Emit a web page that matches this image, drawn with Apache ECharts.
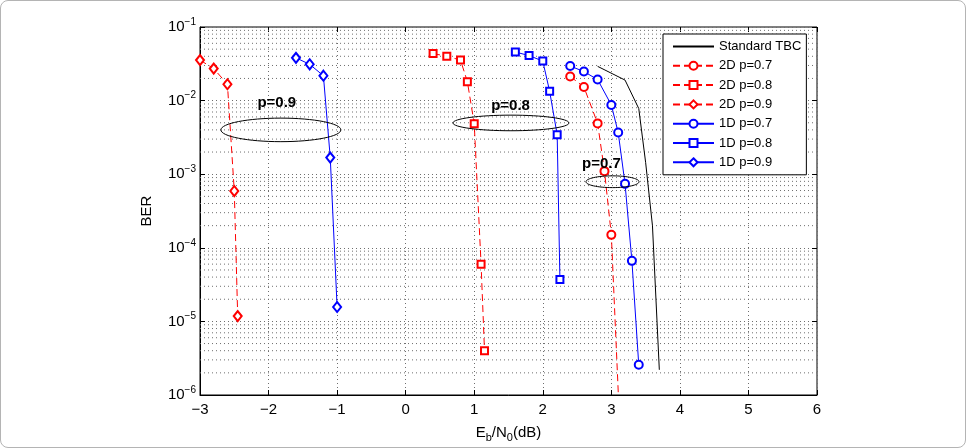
<!DOCTYPE html>
<html>
<head>
  <meta charset="UTF-8">
  <title>BER vs Eb/N0</title>
  <script src="https://cdn.jsdelivr.net/npm/echarts@6/dist/echarts.min.js"></script>
  <style>
  html, body { margin: 0; padding: 0; background: #fff; }
  #frame {
    position: absolute; left: 0; top: 0;
    width: 964px; height: 446px;
    border: 1px solid #b4b4b4; border-radius: 8px;
  }
  #chart { width: 966px; height: 448px; position: absolute; left: 0; top: 0; }
  </style>
</head>
<body>
  <div id="frame"></div>
  <div id="chart"></div>
<script>
// values: [Eb/N0 (dB), BER]
var tbc    = [[2.8, 0.0292], [3.2, 0.0190], [3.4, 0.0078], [3.5, 0.00145], [3.6, 0.0002], [3.7, 2.2e-6]];
var d2p07  = [[2.4, 0.0213], [2.6, 0.0153], [2.8, 0.0049], [2.9, 0.00110], [3.0, 0.000150], [3.11, 7e-7]];
var d2p08  = [[0.4, 0.0435], [0.6, 0.0401], [0.8, 0.0355], [0.9, 0.0181], [1.0, 0.00484], [1.1, 6.0e-5], [1.15, 3.98e-6]];
var d2p09  = [[-3.0, 0.0355], [-2.8, 0.0272], [-2.6, 0.0167], [-2.5, 0.00059], [-2.45, 1.18e-5]];
var d1p07  = [[2.4, 0.0295], [2.6, 0.0248], [2.8, 0.0193], [3.0, 0.00873], [3.1, 0.00368], [3.2, 0.000739], [3.3, 6.65e-5], [3.4, 2.57e-6]];
var d1p08  = [[1.6, 0.0457], [1.8, 0.0409], [2.0, 0.0344], [2.1, 0.0134], [2.21, 0.00343], [2.25, 3.72e-5]];
var d1p09  = [[-1.6, 0.0381], [-1.4, 0.0311], [-1.2, 0.0218], [-1.1, 0.00168], [-1.0, 1.57e-5]];

var legendNames = ['Standard TBC', '2D p=0.7', '2D p=0.8', '2D p=0.9', '1D p=0.7', '1D p=0.8', '1D p=0.9'];

// ellipse annotations: centre in data units, half width (dB), half height (decades)
var notes = [
  { text: 'p=0.9', cx: -1.82, cy: 4.0e-3, hw: 0.875, hh: 0.16, tx: -1.88, ty: 9.4e-3 },
  { text: 'p=0.8', cx: 1.536, cy: 4.97e-3, hw: 0.846, hh: 0.106, tx: 1.53, ty: 8.6e-3 },
  { text: 'p=0.7', cx: 3.017, cy: 7.9e-4, hw: 0.387, hh: 0.08, tx: 2.856, ty: 1.38e-3 }
];

var xMin = -3, xMax = 6;

// minor grid at 2..9 x 10^k
var minorVals = [];
for (var k = -6; k < -1; k++) {
  for (var m = 2; m <= 9; m++) minorVals.push(m * Math.pow(10, k));
}

var FONT = '"Liberation Sans", Arial, Helvetica, sans-serif';
var RED = '#ff0000', BLUE = '#0000ff';
var DOTS = { color: '#6e6e6e', type: [1, 3], width: 1 };

var myChart = echarts.init(document.getElementById('chart'));

function mk(name, data, color, dashed, symbol, size) {
  return {
    name: name,
    type: 'line',
    data: data,
    z: 3,
    symbol: symbol,
    symbolSize: size,
    itemStyle: { color: color, borderWidth: 1 },
    lineStyle: { color: color, width: 1, type: dashed ? [7, 4] : 'solid' },
    emphasis: { disabled: true }
  };
}

var series = minorVals.map(function (v) {
  return {
    type: 'line',
    data: [[xMin, v], [xMax, v]],
    symbol: 'none',
    silent: true,
    z: 1,
    lineStyle: DOTS,
    emphasis: { disabled: true }
  };
});

series.push(
  mk('Standard TBC', tbc, '#000', false, 'emptyCircle', 0),
  mk('2D p=0.7', d2p07, RED, true, 'emptyCircle', 8),
  mk('2D p=0.8', d2p08, RED, true, 'emptyRect', 7),
  mk('2D p=0.9', d2p09, RED, true, 'emptyDiamond', [8, 10]),
  mk('1D p=0.7', d1p07, BLUE, false, 'emptyCircle', 8),
  mk('1D p=0.8', d1p08, BLUE, false, 'emptyRect', 7),
  mk('1D p=0.9', d1p09, BLUE, false, 'emptyDiamond', [8, 10])
);
series[minorVals.length].showSymbol = false;

var legendData = legendNames.map(function (n) {
  return n === 'Standard TBC' ? { name: n, itemStyle: { opacity: 0 } } : { name: n };
});

var option = {
  animation: false,
  textStyle: { fontFamily: FONT },
  grid: { left: 200, right: 149, top: 27, bottom: 44, show: true, borderColor: '#000', borderWidth: 1 },
  legend: {
    data: legendData,
    orient: 'vertical',
    left: 663,
    top: 34,
    itemWidth: 41,
    itemHeight: 10,
    itemGap: 6.3,
    padding: [6, 5, 6, 9],
    backgroundColor: '#fff',
    borderColor: '#000',
    borderWidth: 1,
    textStyle: { fontSize: 13, color: '#000', fontFamily: FONT },
    selectedMode: false
  },
  xAxis: [{
    type: 'value',
    min: xMin, max: xMax, interval: 1,
    name: 'E{sub|b}/N{sub|0}(dB)',
    nameLocation: 'middle',
    nameGap: 28,
    nameTextStyle: {
      fontSize: 15, color: '#000',
      rich: { sub: { fontSize: 11, padding: [9, 0, 0, 0] } }
    },
    axisLine: { onZero: false, lineStyle: { color: '#000' } },
    axisTick: { inside: true, length: 5, lineStyle: { color: '#000' } },
    axisLabel: {
      fontSize: 15, color: '#000', margin: 7,
      formatter: function (v) { return String(v).replace('-', '\u2212'); }
    },
    splitLine: { show: true, lineStyle: DOTS }
  }, {
    type: 'value',
    position: 'top',
    min: xMin, max: xMax, interval: 1,
    axisLine: { show: false, onZero: false },
    axisTick: { inside: true, length: 5, lineStyle: { color: '#000' } },
    axisLabel: { show: false },
    splitLine: { show: false }
  }],
  yAxis: [{
    type: 'log',
    logBase: 10,
    min: 1e-6, max: 1e-1,
    name: 'BER',
    nameLocation: 'middle',
    nameGap: 46,
    nameTextStyle: { fontSize: 15, color: '#000' },
    axisLine: { onZero: false, lineStyle: { color: '#000' } },
    axisTick: { inside: true, length: 5, lineStyle: { color: '#000' } },
    axisLabel: {
      color: '#000', margin: 4,
      formatter: function (v) {
        var e = Math.round(Math.log10(v));
        return '{b|10}{s|' + (e < 0 ? '\u2212' : '') + Math.abs(e) + '}';
      },
      rich: {
        b: { fontSize: 15, color: '#000' },
        s: { fontSize: 10, color: '#000', padding: [0, 0, 10, 0] }
      }
    },
    splitLine: { show: true, lineStyle: DOTS }
  }, {
    type: 'log',
    logBase: 10,
    position: 'right',
    min: 1e-6, max: 1e-1,
    axisLine: { show: false, onZero: false },
    axisTick: { inside: true, length: 5, lineStyle: { color: '#000' } },
    axisLabel: { show: false },
    splitLine: { show: false }
  }],
  series: series
};

myChart.setOption(option);

// ellipses and labels, placed through the chart's own axes
var graphics = [];
notes.forEach(function (n) {
  var c = myChart.convertToPixel({ gridIndex: 0 }, [n.cx, n.cy]);
  var e = myChart.convertToPixel({ gridIndex: 0 }, [n.cx + n.hw, n.cy * Math.pow(10, n.hh)]);
  var t = myChart.convertToPixel({ gridIndex: 0 }, [n.tx, n.ty]);
  graphics.push({
    type: 'ellipse',
    shape: { cx: c[0], cy: c[1], rx: e[0] - c[0], ry: c[1] - e[1] },
    style: { fill: null, stroke: '#000', lineWidth: 1 },
    z: 10
  });
  graphics.push({
    type: 'text',
    x: t[0], y: t[1],
    style: {
      text: n.text, fill: '#000',
      font: 'bold 15px ' + FONT,
      align: 'center', verticalAlign: 'middle'
    },
    z: 11
  });
});
myChart.setOption({ graphic: graphics });
</script>
</body>
</html>
